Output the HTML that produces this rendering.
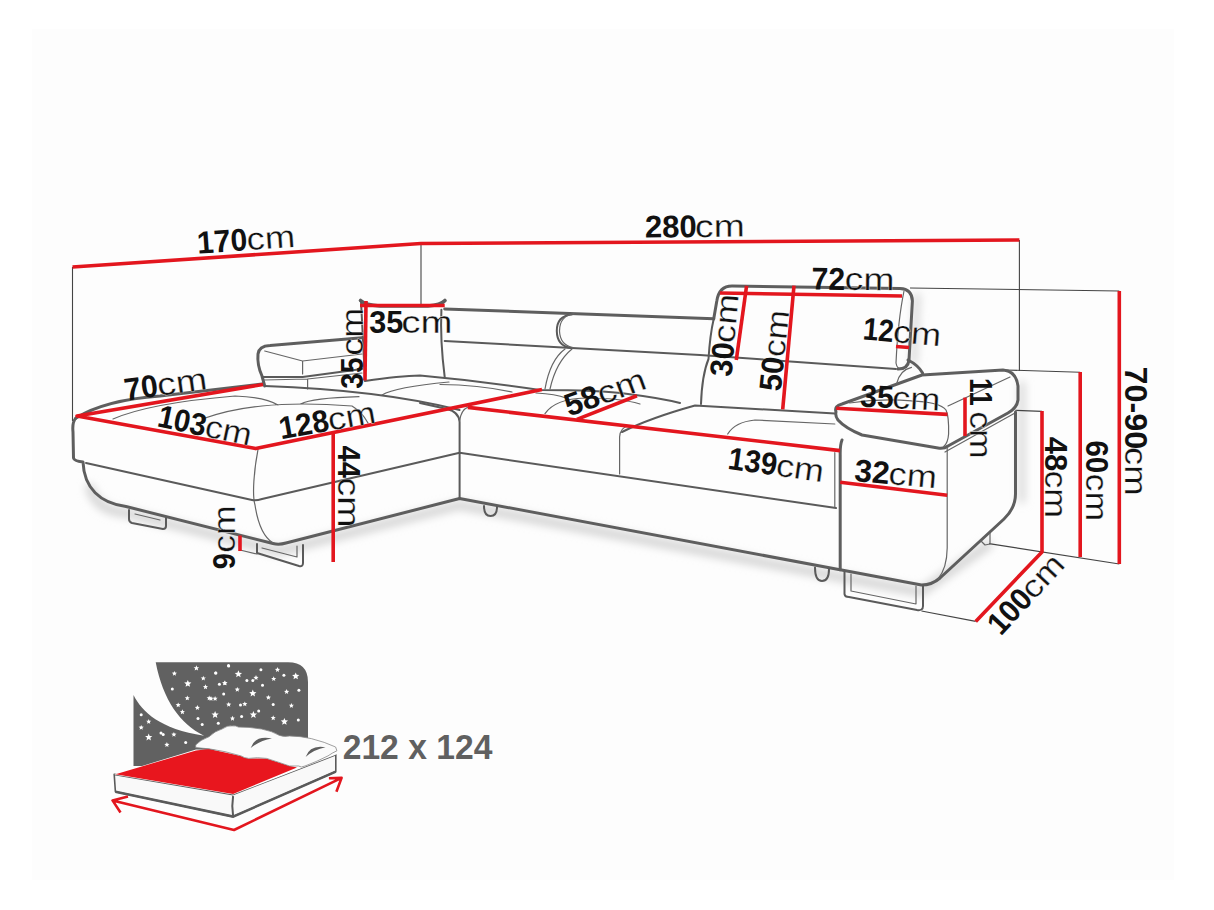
<!DOCTYPE html>
<html><head><meta charset="utf-8">
<style>
html,body{margin:0;padding:0;background:#fff;width:1214px;height:910px;overflow:hidden}
svg{display:block}
text{font-family:"Liberation Sans",sans-serif;fill:#111}
.b{font-weight:bold}
.c{stroke:#fff;stroke-width:0.3}
.o{fill:none;stroke:#5e5e5e;stroke-width:3;stroke-linecap:round;stroke-linejoin:round}
.t{fill:none;stroke:#666;stroke-width:1.2;stroke-linecap:round;stroke-linejoin:round}
.m{fill:none;stroke:#5a5a5a;stroke-width:2;stroke-linecap:round;stroke-linejoin:round}
.d{fill:none;stroke:#444;stroke-width:1.1}
.r{fill:none;stroke:#e3161e;stroke-width:3.6;stroke-linecap:butt;stroke-linejoin:round}
</style></head>
<body>
<svg width="1214" height="910" viewBox="0 0 1214 910">
<rect x="0" y="0" width="1214" height="910" fill="#fff"/>
<rect x="32" y="29" width="1142" height="851" fill="#fdfdfd"/>
<defs><filter id="blur" x="-20%" y="-50%" width="140%" height="200%"><feGaussianBlur stdDeviation="4"/></filter></defs>
<g filter="url(#blur)" fill="none" stroke="#d4d4d4" stroke-width="9" stroke-linecap="round">
<path d="M90 488 C95 505 108 511 126 513 L279 551 L459.6 505 L840 577 L921 592 L988 545"/>
<path stroke-width="6" d="M917 296 L914 362 M1022 384 V500"/>
</g>
<!-- dimension helper lines (thin gray) -->
<g class="d">
<path d="M72.5 267 V421"/>
<path d="M421 243.5 V304"/>
<path d="M1019.4 240 V371"/>
<path d="M910 288 L1119.3 291"/>
<path d="M1005 370 L1080.2 372.2"/>
<path d="M1015.3 410.3 L1042 411.4"/>
<path d="M989 543.6 L1119.3 564"/>
<path d="M921.5 611 L975.7 621.4"/>
</g>
<g id="sofa">
<!-- chaise -->
<path class="o" d="M76 418 Q105 400 160 396 L262 384"/>
<path class="o" d="M76 418 Q72 422 73 432 L73.5 458 Q74 461 83 462 C84 488 100 503 126 506.5 L273 543.5 Q279 545 286 543 L459.6 498.5 L840 569.7"/>
<path class="t" d="M258 449.5 C254 470 252 495 255 505 C258 525 265 538 273 543"/>
<path class="m" d="M86 463 L252 500 Q256 501 262 499 L459.6 452.8 L836 508"/>
<path class="m" d="M420 403 L447 409 Q459 412 459.6 422 L459.6 499"/>
<!-- left armrest -->
<path class="o" d="M264.7 386 L262 376 Q257 365 258 354 Q259 346 270 345.5 L362 337.7"/>
<path class="t" d="M264.7 351 L302.6 361 L362 354 M302.6 361 V374"/>
<path class="m" d="M263 377 L302.6 377 L362 369"/>
<path class="t" d="M264 380 L307.6 379 L307.6 389 M307.6 379 L362 373"/>
<path class="m" d="M264.7 386 Q380 390 459.6 410"/>
<!-- pillow -->
<path class="o" style="stroke-width:3.6" d="M360.5 300.5 Q365 305 380 306 L428 306 Q441 305 445 300.5"/>
<path class="m" d="M361 301 Q363 340 365 380"/>
<path class="m" d="M441.4 309.7 Q440 340 444.7 377"/>
<path class="m" d="M365 381 Q400 376 420 375.6 Q480 381 540 390 Q600 390 628 394 Q660 398 680 403"/>
<!-- backrest -->
<path class="o" d="M444.7 309 L713.7 318.7"/>
<path class="m" d="M444.7 341 Q600 349 700 355 L896 369"/>
<path class="m" d="M571.7 314.6 Q556.8 316 556.8 331 Q557 346 571 348"/>
<path class="t" d="M574 313.5 Q559.5 316 559.5 331 Q560 345 573 347.5"/>
<path class="t" d="M565 349 Q550 360 545 389 M572 349 Q556 362 550 389"/>
<!-- right headrest -->
<path class="o" d="M713.7 319 L716.8 301 Q719 286 732 286 L900 288.5 Q912 289 912.4 301 L909 360 Q908 369 898 369"/>
<path class="t" d="M904 291 Q898 320 896 363 Q897 370 903 369"/>
<path class="m" d="M713.7 319 Q710 335 708.5 359 Q702 375 701 404"/>
<path class="o" d="M908 360 Q918 365 922.6 373"/>
<!-- tufting -->
<path class="t" d="M113 419 Q150 403 235 396 Q265 397 278 405 M202 419 Q230 409 262 406 Q300 402 352 406 Q362 412 368 423 M300.7 404 Q312 398 359 396.7 M382 395 Q395 387 449 382 M545 413.6 Q555 399 585 398 Q620 398 640 404 M727.7 434 Q735 422 755 420 L834.8 424"/>
<path class="t" d="M440 384.5 Q480 385 512 392 M536 393 Q556 394 566 398"/>
<!-- main seat -->
<path class="t" d="M459.6 421 Q461 410 468 407"/>
<path class="m" d="M622 432 Q650 418 695 405.5 L835 413.5"/>
<path class="t" d="M619.6 474 V437 Q620 428 628 426 M834.8 452.7 V507"/>
<!-- right armrest -->
<path class="o" d="M836 412 Q834 406 842 404 L922 375 L1003 370 Q1016 371 1018 386 V400 Q1017 408 1008 413 L948 446 Q944 449 938 448 L862 435 Q845 428 838 420 Q835 416 836 412 Z"/>
<path class="t" d="M948 406 L1010 377 M849.7 403 Q880 398 911.5 400.8 Q940 402 946 410 Q949 416 948.6 434 Q948 443 943.7 446.5 M945 452 L1015 413 M896.7 383.5 Q900 370 911.5 367.4"/>
<path class="o" d="M842 440 Q840 445 840.2 455 V569.7 L921.5 585 Q932 585 940 578 L1004 519 Q1015.5 508 1015.5 494 V412"/>
<path class="t" d="M947.2 448 V548 Q947 568 938 579"/>
<!-- feet -->
<path class="m" d="M129 510 L129 519 Q129 522 132 523 L163 529 Q166 529 166 526 L166 518"/>
<path class="t" d="M135 514 L160 520"/>
<path class="m" d="M257 544 V553 L299 566 Q303 567 303 563 V545"/>
<path class="t" d="M262 548 L297 557 V546 M240 537 V550 L257 554"/>
<path class="m" d="M484 506 Q484 516 490.5 516 Q497 516 497 507"/>
<path class="m" d="M815 567.5 Q815 581 822 581 Q829 581 829 569"/>
<path class="m" d="M844.5 572 V594 Q845 597 849 597 L917 610 Q923 611 923 606 V585"/>
<path class="t" d="M851 574 V591 L916 604 V586"/>
<path class="t" d="M981 541 L985 545 L990 544 V533"/>
</g>
<!-- red dimension lines -->
<g class="r">
<path d="M72.5 267 L421 243.5 L1019.4 240"/>
<path d="M1119.3 291 V564"/>
<path d="M1080.2 372 V557"/>
<path d="M1042 411 V552 L975.7 621.4"/>
<path d="M263 384.5 L77 416 L255.7 448.6 L542 389.6"/>
<path d="M333.2 434 V562"/>
<path d="M240 535.5 V551"/>
<path d="M360 305.5 L444.7 305.5"/>
<path d="M366 301 L365 380.6"/>
<path d="M467.8 407.4 L840 450.6"/>
<path d="M576.9 419.4 L636.9 395.8"/>
<path d="M719.9 293 L902 296"/>
<path d="M746.6 285.7 L736.3 360"/>
<path d="M794 285.7 L782.7 409.3"/>
<path d="M896 346.5 L909 347.5"/>
<path d="M836.2 408.3 L947.4 414.4"/>
<path d="M965 397.6 V436"/>
<path d="M840.2 482.2 L947.2 495.2"/>
</g>

<g font-size="31.5">
<g transform="translate(199.70 253.50) rotate(-4)"><text class="b" transform="translate(-1.94 0) scale(0.956 1)">170</text><text class="c" transform="translate(47.77 0) scale(1.156 1.0)">cm</text></g>
<g transform="translate(646.00 237.60) rotate(-0.5)"><text class="b" transform="translate(-1.10 0) scale(0.986 1)">280</text><text class="c" transform="translate(49.03 0) scale(1.187 1.0)">cm</text></g>
<g transform="translate(812.70 289.50) rotate(0.5)"><text class="b" transform="translate(-1.27 0) scale(0.959 1)">72</text><text class="c" transform="translate(31.73 0) scale(1.189 1.0)">cm</text></g>
<g transform="translate(127.00 400.50) rotate(-8)"><text class="b" transform="translate(-1.27 0) scale(0.959 1)">70</text><text class="c" transform="translate(31.92 0) scale(1.194 1.0)">cm</text></g>
<g transform="translate(158.00 426.50) rotate(12)"><text class="b" transform="translate(-1.90 0) scale(0.933 1)">103</text><text class="c" transform="translate(46.53 0) scale(1.117 1.0)">cm</text></g>
<g transform="translate(283.00 439.00) rotate(-10)"><text class="b" transform="translate(-1.93 0) scale(0.950 1)">128</text><text class="c" transform="translate(47.49 0) scale(1.143 1.0)">cm</text></g>
<g transform="translate(362.50 388.00) rotate(-90)"><text class="b" transform="translate(-0.64 0) scale(0.894 1)">35</text><text class="c" transform="translate(32.29 0) scale(1.143 1.0)">cm</text></g>
<g transform="translate(370.00 333.00) rotate(0)"><text class="b" transform="translate(-0.69 0) scale(0.972 1)">35</text><text class="c" transform="translate(31.29 0) scale(1.220 1.0)">cm</text></g>
<g transform="translate(338.00 446.00) rotate(90)"><text class="b" transform="translate(-0.47 0) scale(0.920 1)">44</text><text class="c" transform="translate(31.42 0) scale(1.194 1.0)">cm</text></g>
<g transform="translate(234.60 568.20) rotate(-90)"><text class="b" transform="translate(-1.03 0) scale(0.925 1)">9</text><text class="c" transform="translate(15.51 0) scale(1.130 1.0)">cm</text></g>
<g transform="translate(570.00 416.50) rotate(-20)"><text class="b" transform="translate(-1.02 0) scale(1.002 1)">58</text><text class="c" transform="translate(33.42 0) scale(1.194 1.0)">cm</text></g>
<g transform="translate(729.00 469.00) rotate(8)"><text class="b" transform="translate(-1.90 0) scale(0.933 1)">139</text><text class="c" transform="translate(46.49 0) scale(1.143 1.0)">cm</text></g>
<g transform="translate(731.50 376.50) rotate(-85)"><text class="b" transform="translate(-0.69 0) scale(0.972 1)">30</text><text class="c" transform="translate(32.96 0) scale(1.168 1.0)">cm</text></g>
<g transform="translate(780.80 391.00) rotate(-84)"><text class="b" transform="translate(-1.00 0) scale(0.981 1)">50</text><text class="c" transform="translate(33.53 0) scale(1.117 1.0)">cm</text></g>
<g transform="translate(864.00 339.50) rotate(5)"><text class="b" transform="translate(-1.79 0) scale(0.880 1)">12</text><text class="c" transform="translate(28.28 0) scale(1.148 1.0)">cm</text></g>
<g transform="translate(860.50 406.50) rotate(3)"><text class="b" transform="translate(-0.68 0) scale(0.954 1)">35</text><text class="c" transform="translate(31.28 0) scale(1.148 1.0)">cm</text></g>
<g transform="translate(970.30 379.80) rotate(90)"><text class="b" transform="translate(-1.68 0) scale(0.829 1)">11</text><text class="c" transform="translate(31.51 0) scale(1.130 1.0)">cm</text></g>
<g transform="translate(854.50 481.00) rotate(5)"><text class="b" transform="translate(-0.71 0) scale(1.002 1)">32</text><text class="c" transform="translate(33.48 0) scale(1.150 1.0)">cm</text></g>
<g transform="translate(1045.00 437.30) rotate(90)"><text class="b" transform="translate(-0.50 0) scale(0.987 1)">48</text><text class="c" transform="translate(33.10 0) scale(1.137 1.0)">cm</text></g>
<g transform="translate(1086.00 441.50) rotate(90)"><text class="b" transform="translate(-1.05 0) scale(0.938 1)">60</text><text class="c" transform="translate(32.00 0) scale(1.137 1.0)">cm</text></g>
<g transform="translate(1124.50 367.80) rotate(90)"><text class="b" transform="translate(-1.36 0) scale(1.030 1)">70-90</text><text class="c" transform="translate(79.17 0) scale(1.156 1.0)">cm</text></g>
<g transform="translate(1002.00 635.00) rotate(-47)"><text class="b" transform="translate(-1.90 0) scale(0.935 1)">100</text><text class="c" transform="translate(46.49 0) scale(1.143 1.0)">cm</text></g>
</g>

<text transform="translate(342.7 759.4) scale(0.935 1)" class="b" font-size="36" style="fill:#606060">212 x 124</text>
<g id="bed">
<path fill="#616161" d="M155.7 662.3 L288 662.3 Q308 662.3 308 682 L308 766 L133.5 766 L133.5 695 C142 712 160 729 204 735.7 C180 724 163 700 155.7 662.3 Z"/>
<g fill="#fff"><polygon points="196.40,665.29 197.17,667.14 199.17,667.30 197.65,668.60 198.11,670.56 196.40,669.51 194.69,670.56 195.15,668.60 193.63,667.30 195.63,667.14"/><polygon points="174.40,670.91 175.11,672.62 176.96,672.77 175.55,673.97 175.98,675.77 174.40,674.81 172.82,675.77 173.25,673.97 171.84,672.77 173.69,672.62"/><circle cx="215.6" cy="673" r="1.5"/><circle cx="228.5" cy="665.5" r="1.5"/><polygon points="203.30,675.71 204.01,677.42 205.86,677.57 204.45,678.77 204.88,680.57 203.30,679.61 201.72,680.57 202.15,678.77 200.74,677.57 202.59,677.42"/><polygon points="187.80,679.89 188.81,682.31 191.42,682.52 189.43,684.23 190.04,686.78 187.80,685.41 185.56,686.78 186.17,684.23 184.18,682.52 186.79,682.31"/><polygon points="224.70,680.51 225.41,682.22 227.26,682.37 225.85,683.57 226.28,685.37 224.70,684.41 223.12,685.37 223.55,683.57 222.14,682.37 223.99,682.22"/><circle cx="219.4" cy="684.3" r="1.5"/><polygon points="205.50,684.31 206.21,686.02 208.06,686.17 206.65,687.37 207.08,689.17 205.50,688.21 203.92,689.17 204.35,687.37 202.94,686.17 204.79,686.02"/><circle cx="172.3" cy="689" r="1.5"/><circle cx="223.7" cy="694" r="1.5"/><polygon points="187.30,695.51 188.01,697.22 189.86,697.37 188.45,698.57 188.88,700.37 187.30,699.41 185.72,700.37 186.15,698.57 184.74,697.37 186.59,697.22"/><polygon points="209.20,695.51 209.91,697.22 211.76,697.37 210.35,698.57 210.78,700.37 209.20,699.41 207.62,700.37 208.05,698.57 206.64,697.37 208.49,697.22"/><polygon points="215.10,696.01 215.81,697.72 217.66,697.87 216.25,699.07 216.68,700.87 215.10,699.91 213.52,700.87 213.95,699.07 212.54,697.87 214.39,697.72"/><polygon points="178.20,702.41 178.91,704.12 180.76,704.27 179.35,705.47 179.78,707.27 178.20,706.31 176.62,707.27 177.05,705.47 175.64,704.27 177.49,704.12"/><polygon points="197.40,705.11 198.11,706.82 199.96,706.97 198.55,708.17 198.98,709.97 197.40,709.01 195.82,709.97 196.25,708.17 194.84,706.97 196.69,706.82"/><polygon points="182.40,709.31 183.11,711.02 184.96,711.17 183.55,712.37 183.98,714.17 182.40,713.21 180.82,714.17 181.25,712.37 179.84,711.17 181.69,711.02"/><polygon points="215.10,710.99 216.11,713.41 218.72,713.62 216.73,715.33 217.34,717.88 215.10,716.51 212.86,717.88 213.47,715.33 211.48,713.62 214.09,713.41"/><circle cx="198" cy="718.5" r="1.5"/><circle cx="202.2" cy="724.4" r="1.5"/><circle cx="218.3" cy="723.3" r="1.5"/><circle cx="141.2" cy="714.8" r="1.5"/><polygon points="148.70,719.01 149.41,720.72 151.26,720.87 149.85,722.07 150.28,723.87 148.70,722.91 147.12,723.87 147.55,722.07 146.14,720.87 147.99,720.72"/><polygon points="141.20,724.91 141.91,726.62 143.76,726.77 142.35,727.97 142.78,729.77 141.20,728.81 139.62,729.77 140.05,727.97 138.64,726.77 140.49,726.62"/><polygon points="148.70,733.49 149.71,735.91 152.32,736.12 150.33,737.83 150.94,740.38 148.70,739.01 146.46,740.38 147.07,737.83 145.08,736.12 147.69,735.91"/><circle cx="161" cy="733" r="1.5"/><circle cx="163.2" cy="734.6" r="1.5"/><polygon points="173.90,731.91 174.61,733.62 176.46,733.77 175.05,734.97 175.48,736.77 173.90,735.81 172.32,736.77 172.75,734.97 171.34,733.77 173.19,733.62"/><polygon points="166.90,742.11 167.61,743.82 169.46,743.97 168.05,745.17 168.48,746.97 166.90,746.01 165.32,746.97 165.75,745.17 164.34,743.97 166.19,743.82"/><circle cx="185.7" cy="742.6" r="1.5"/><polygon points="238.40,670.29 239.41,672.71 242.02,672.92 240.03,674.63 240.64,677.18 238.40,675.81 236.16,677.18 236.77,674.63 234.78,672.92 237.39,672.71"/><circle cx="260.9" cy="669.8" r="1.5"/><polygon points="277.50,667.11 278.21,668.82 280.06,668.97 278.65,670.17 279.08,671.97 277.50,671.01 275.92,671.97 276.35,670.17 274.94,668.97 276.79,668.82"/><polygon points="256.00,675.11 256.71,676.82 258.56,676.97 257.15,678.17 257.58,679.97 256.00,679.01 254.42,679.97 254.85,678.17 253.44,676.97 255.29,676.82"/><circle cx="246.9" cy="680.5" r="1.5"/><circle cx="252.8" cy="680.5" r="1.5"/><polygon points="273.70,676.21 274.41,677.92 276.26,678.07 274.85,679.27 275.28,681.07 273.70,680.11 272.12,681.07 272.55,679.27 271.14,678.07 272.99,677.92"/><circle cx="283.9" cy="675.2" r="1.5"/><polygon points="295.70,672.39 296.71,674.81 299.32,675.02 297.33,676.73 297.94,679.28 295.70,677.91 293.46,679.28 294.07,676.73 292.08,675.02 294.69,674.81"/><polygon points="225.00,680.51 225.71,682.22 227.56,682.37 226.15,683.57 226.58,685.37 225.00,684.41 223.42,685.37 223.85,683.57 222.44,682.37 224.29,682.22"/><circle cx="262.5" cy="685.3" r="1.5"/><polygon points="237.30,686.91 238.01,688.62 239.86,688.77 238.45,689.97 238.88,691.77 237.30,690.81 235.72,691.77 236.15,689.97 234.74,688.77 236.59,688.62"/><polygon points="252.80,689.59 253.81,692.01 256.42,692.22 254.43,693.93 255.04,696.48 252.80,695.11 250.56,696.48 251.17,693.93 249.18,692.22 251.79,692.01"/><polygon points="286.60,689.11 287.31,690.82 289.16,690.97 287.75,692.17 288.18,693.97 286.60,693.01 285.02,693.97 285.45,692.17 284.04,690.97 285.89,690.82"/><circle cx="298.9" cy="690.2" r="1.5"/><polygon points="211.00,696.01 211.71,697.72 213.56,697.87 212.15,699.07 212.58,700.87 211.00,699.91 209.42,700.87 209.85,699.07 208.44,697.87 210.29,697.72"/><polygon points="268.40,694.91 269.11,696.62 270.96,696.77 269.55,697.97 269.98,699.77 268.40,698.81 266.82,699.77 267.25,697.97 265.84,696.77 267.69,696.62"/><polygon points="228.70,701.91 229.41,703.62 231.26,703.77 229.85,704.97 230.28,706.77 228.70,705.81 227.12,706.77 227.55,704.97 226.14,703.77 227.99,703.62"/><circle cx="240.5" cy="705.1" r="1.5"/><polygon points="244.80,701.41 245.51,703.12 247.36,703.27 245.95,704.47 246.38,706.27 244.80,705.31 243.22,706.27 243.65,704.47 242.24,703.27 244.09,703.12"/><circle cx="273.2" cy="704.6" r="1.5"/><polygon points="291.40,703.01 292.11,704.72 293.96,704.87 292.55,706.07 292.98,707.87 291.40,706.91 289.82,707.87 290.25,706.07 288.84,704.87 290.69,704.72"/><polygon points="232.50,715.81 233.21,717.52 235.06,717.67 233.65,718.87 234.08,720.67 232.50,719.71 230.92,720.67 231.35,718.87 229.94,717.67 231.79,717.52"/><circle cx="241.6" cy="716.4" r="1.5"/><polygon points="253.40,710.99 254.41,713.41 257.02,713.62 255.03,715.33 255.64,717.88 253.40,716.51 251.16,717.88 251.77,715.33 249.78,713.62 252.39,713.41"/><circle cx="258.7" cy="711" r="1.5"/><polygon points="273.20,715.31 273.91,717.02 275.76,717.17 274.35,718.37 274.78,720.17 273.20,719.21 271.62,720.17 272.05,718.37 270.64,717.17 272.49,717.02"/><polygon points="284.40,717.89 285.41,720.31 288.02,720.52 286.03,722.23 286.64,724.78 284.40,723.41 282.16,724.78 282.77,722.23 280.78,720.52 283.39,720.31"/><circle cx="298.3" cy="720.1" r="1.5"/><circle cx="228.7" cy="666" r="1.5"/><circle cx="215.9" cy="673" r="1.5"/></g>
<path fill="#f9f9f9" stroke="#5a5a5a" stroke-width="1.6" stroke-linejoin="round" d="M114.2 774.4 L233.1 794.6 L335.8 754.8 L335.8 771.6 L233.1 816.6 L115.4 791.8 Z"/>
<path fill="none" stroke="#5a5a5a" stroke-width="2.6" d="M115.4 791.8 L233.1 816.6 L335.8 771.6"/>
<path fill="none" stroke="#5a5a5a" stroke-width="2" d="M233.1 796 Q231.5 806 233.1 816"/>
<path fill="#fff" d="M114.2 774.4 L196 749.6 L336 752 L335.8 754.8 L233.1 794.6 Z"/>
<path fill="#e8161e" d="M115.5 774.2 L196 750.5 L209 749 L241 756 L249 758.5 L266.6 758.5 L290 766 L297 767.5 L233.1 794 Z"/>
<path fill="#fbfbfb" stroke="#888" stroke-width="0.8" d="M195.7 745 Q200 740 209 736.7 Q215 731 222 729 Q228 725 232 725.9 Q236 725.5 238.5 727.1 Q250 727 261.5 729 Q272 731 279.4 735.4 Q284 737 289.6 736 Q300 736 311.3 738.6 Q325 742 335.6 747 L336.9 750.8 Q332 753 328 755.9 Q316 762 305 766 Q301 768 298.6 766 L289.6 766 Q278 762 266.6 758.4 Q257 757 248.7 758.4 Q244 758 241 755.9 Q225 751 209 748.8 Q200 748 195.7 747.6 Z"/>
<path fill="#5e5e5e" d="M250.7 748 Q255 735 272 738.5 Q260 740.5 250.7 748 Z"/>
<path fill="#5e5e5e" d="M305.6 757 Q310 744.5 325.6 747.3 Q314 749.5 305.6 757 Z"/>
<path fill="none" stroke="#e3161e" stroke-width="2.6" stroke-linejoin="round" d="M112.5 800.4 L234 830 L341.6 777.9 M128 796.5 L112.5 800.4 L120.5 812.5 M328.9 778.3 L341.6 777.9 L336.4 791.8"/>
</g>

</svg>
</body></html>
